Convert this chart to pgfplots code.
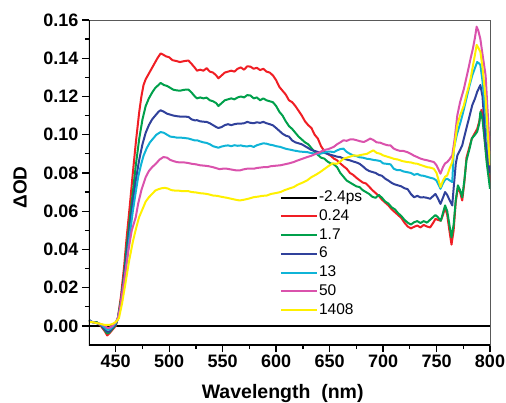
\documentclass[border=0pt]{standalone}
\usepackage{fontspec}
\setmainfont{Liberation Sans}
\usepackage{pgfplots}
\pgfplotsset{compat=1.18}
\definecolor{cR}{RGB}{240,30,36}
\definecolor{cG}{RGB}{0,160,75}
\definecolor{cB}{RGB}{48,65,155}
\definecolor{cC}{RGB}{15,180,215}
\definecolor{cP}{RGB}{218,82,172}
\definecolor{cY}{RGB}{255,240,0}
\begin{document}
\begin{tikzpicture}
\begin{axis}[
  name=ax, at={(0pt,0pt)}, anchor=south west,
  scale only axis, width=401pt, height=325pt,
  xmin=425, xmax=800, ymin=-0.01, ymax=0.16,
  xtick={450,500,...,800}, ytick={0,0.02,...,0.16},
  minor x tick num=1, minor y tick num=1,
  xtick pos=bottom, ytick pos=left, tick align=outside,
  major tick length=7pt, minor tick length=4pt,
  tick style={black, line width=1.3pt},
  axis line style={draw=black!65, line width=0.8pt},
  scaled y ticks=false,
  /pgf/number format/assume math mode=true,
  tick label style={font=\fontsize{18}{18}\selectfont\bfseries},
  xticklabel style={yshift=1pt},
  yticklabel style={/pgf/number format/.cd, fixed, fixed zerofill, precision=2},
  xlabel={Wavelength\ \ (nm)}, ylabel={ΔOD},
  xlabel style={font=\fontsize{19.5}{19.5}\selectfont\bfseries, at={(axis description cs:0.483,-0.164)}, anchor=base},
  ylabel style={font=\fontsize{19}{19}\selectfont\bfseries, at={(axis description cs:-0.172,0.485)}, anchor=center},
  legend style={at={(axis description cs:0.476,0.478)}, anchor=north west, draw=none, fill=none,
    inner sep=0pt, outer sep=0pt, row sep=2.75pt, font=\fontsize{15.5}{15.5}\selectfont,
    nodes={inner sep=1pt, text height=11pt, text depth=3pt}},
  legend cell align=left,
  legend image code/.code={\draw[#1] (0pt,0pt) -- (36pt,0pt);},
  every axis plot/.append style={line width=2pt, line join=round},
]
\addplot[black, line width=2.2pt] coordinates {(425,0) (800,0)};
\addlegendentry{-2.4ps}
\addplot[cR] coordinates {(425,0.003) (428,0.002) (432,0.002) (436,0.000) (440,-0.003) (442,-0.005) (444,-0.004) (447,-0.002) (450,0.000) (452,0.004)
(455,0.016) (458,0.032) (460,0.045) (463,0.062) (466,0.080) (469,0.097) (472,0.112) (474,0.120) (476,0.126) (478,0.129) (480,0.131) (483,0.134) (486,0.137) (489,0.140) (492,0.1425) (494,0.142) (497,0.141) (500,0.1405) (503,0.139) (507,0.1385) (510,0.138) (514,0.1385) (518,0.1388) (521,0.137) (524,0.135) (526,0.1335) (529,0.134) (532,0.1335) (535,0.1348) (538,0.133) (541,0.1325) (544,0.131) (546,0.1295) (549,0.131) (552,0.1325) (555,0.133) (558,0.1335) (561,0.133) (564,0.1345) (567,0.1352) (570,0.134) (573,0.1358) (576,0.1356) (579,0.1345) (582,0.135) (585,0.1338) (588,0.1345) (591,0.133) (594,0.1325) (597,0.131) (600,0.1285) (603,0.125) (606,0.123) (609,0.121) (612,0.118) (615,0.117) (618,0.115) (621,0.1125) (624,0.110) (627,0.107) (630,0.105) (633,0.1035) (636,0.100) (639,0.098) (642,0.094) (645,0.0915) (648,0.090) (651,0.089) (654,0.0875) (657,0.0866) (660,0.085) (663,0.0835) (666,0.0822) (669,0.080) (672,0.079) (675,0.0775) (678,0.0762) (681,0.075) (684,0.0745) (687,0.0728) (690,0.071) (693,0.0695) (696,0.068) (699,0.066) (702,0.0645) (705,0.063) (708,0.061) (711,0.0595) (714,0.058) (717,0.0565) (720,0.054) (723,0.052) (726,0.051) (729,0.0518) (732,0.0525) (735,0.0515) (738,0.0528) (741,0.052) (744,0.0515) (747,0.054) (749,0.056) (751,0.0555) (754,0.055) (756,0.058) (758,0.062) (760,0.058) (762,0.050) (764,0.0425) (766,0.050) (768,0.065) (770,0.0725) (772,0.0700) (774,0.0656) (776,0.075) (778,0.088) (781,0.094) (783,0.098) (786,0.101) (788,0.103) (790,0.107) (792,0.113) (793,0.110) (795,0.098) (797,0.087) (800,0.075)};
\addlegendentry{0.24}
\addplot[cG] coordinates {(425,0.003) (428,0.002) (432,0.002) (436,0.0005) (440,-0.0025) (442,-0.004) (444,-0.0035) (447,-0.0015) (450,0.0005) (452,0.004) (455,0.014) (458,0.028) (460,0.040) (463,0.055) (466,0.070) (469,0.085) (472,0.098) (475,0.108) (478,0.115) (481,0.119) (484,0.122) (487,0.1245) (490,0.126) (492,0.1271) (495,0.126) (498,0.1255) (501,0.1245) (504,0.1235) (507,0.1232) (510,0.123) (514,0.1235) (518,0.1236) (521,0.122) (524,0.120) (526,0.119) (529,0.1195) (532,0.119) (535,0.1194) (538,0.118) (541,0.1175) (544,0.1165) (546,0.115) (549,0.1165) (552,0.118) (555,0.1185) (558,0.119) (561,0.1185) (564,0.1195) (567,0.120) (570,0.1195) (573,0.1207) (576,0.1205) (579,0.119) (582,0.1195) (585,0.118) (588,0.119) (591,0.118) (594,0.1175) (597,0.117) (600,0.115) (603,0.112) (606,0.110) (609,0.107) (612,0.1045) (615,0.103) (618,0.101) (621,0.099) (624,0.0975) (627,0.096) (630,0.095) (633,0.093) (636,0.091) (639,0.0895) (642,0.088) (645,0.0875) (648,0.086) (651,0.085) (654,0.0845) (657,0.083) (660,0.080) (663,0.078) (666,0.076) (669,0.075) (672,0.074) (675,0.073) (678,0.0726) (681,0.071) (684,0.070) (687,0.069) (690,0.0675) (693,0.067) (696,0.0685) (699,0.067) (702,0.065) (705,0.064) (708,0.062) (711,0.061) (714,0.059) (717,0.0575) (720,0.0555) (723,0.054) (726,0.053) (729,0.0542) (732,0.0548) (735,0.0538) (738,0.0548) (741,0.054) (744,0.0555) (747,0.057) (749,0.058) (751,0.057) (754,0.055) (756,0.059) (758,0.063) (760,0.060) (762,0.053) (764,0.0463) (766,0.053) (768,0.066) (770,0.0735) (772,0.071) (774,0.0673) (776,0.076) (778,0.0866) (781,0.093) (783,0.098) (786,0.100) (788,0.1015) (790,0.106) (791,0.112) (793,0.108) (795,0.097) (797,0.085) (800,0.0717)};
\addlegendentry{1.7}
\addplot[cB] coordinates {(425,0.003) (428,0.002) (432,0.0015) (436,0.0005) (440,-0.002) (442,-0.003) (444,-0.003) (447,-0.001) (450,0.001) (452,0.004) (455,0.012) (458,0.026) (460,0.036) (463,0.051) (466,0.065) (469,0.077) (472,0.087) (475,0.095) (478,0.101) (481,0.105) (484,0.108) (487,0.110) (490,0.112) (492,0.1128) (495,0.112) (498,0.111) (501,0.1105) (504,0.110) (507,0.1097) (510,0.1095) (514,0.1095) (518,0.1093) (521,0.108) (524,0.1075) (526,0.1076) (529,0.107) (532,0.1068) (535,0.1067) (538,0.106) (541,0.105) (544,0.104) (546,0.1035) (549,0.104) (552,0.105) (555,0.1055) (558,0.105) (561,0.1055) (564,0.1058) (567,0.1058) (570,0.106) (573,0.1067) (576,0.1062) (579,0.106) (582,0.1065) (585,0.1062) (588,0.1067) (591,0.106) (594,0.1055) (597,0.1049) (600,0.1035) (603,0.102) (606,0.1005) (609,0.0995) (612,0.099) (615,0.097) (618,0.096) (621,0.0955) (624,0.095) (627,0.094) (630,0.093) (633,0.092) (636,0.0915) (639,0.091) (642,0.0905) (645,0.0905) (648,0.090) (651,0.0895) (654,0.089) (657,0.0885) (660,0.0883) (663,0.0875) (666,0.087) (669,0.0866) (672,0.086) (675,0.0855) (678,0.0848) (681,0.0835) (684,0.082) (687,0.081) (690,0.0805) (693,0.080) (696,0.079) (699,0.0785) (702,0.077) (705,0.076) (708,0.0748) (711,0.074) (714,0.0735) (717,0.073) (720,0.072) (723,0.0715) (726,0.069) (729,0.0673) (732,0.068) (735,0.0672) (738,0.0673) (741,0.067) (744,0.0665) (747,0.068) (749,0.069) (751,0.067) (753.7,0.0638) (756,0.067) (758,0.070) (760,0.0685) (762,0.066) (764.7,0.063) (766,0.072) (768,0.0848) (769.5,0.0892) (772,0.092) (774,0.0944) (776,0.099) (778.7,0.105) (781,0.110) (783.4,0.1154) (786,0.119) (788,0.1224) (791,0.126) (793,0.120) (796,0.0962) (800,0.080)};
\addlegendentry{6}
\addplot[cC] coordinates {(425,0.003) (428,0.002) (432,0.0015) (436,0.0008) (440,-0.001) (442,-0.002) (444,-0.002) (447,-0.0005) (450,0.0015) (452,0.004) (455,0.011) (458,0.023) (461,0.037) (463,0.047) (466,0.060) (469,0.071) (471,0.078) (474,0.085) (476,0.089) (479,0.093) (482,0.096) (485,0.098) (488,0.100) (492,0.1014) (495,0.101) (498,0.100) (501,0.099) (504,0.0988) (507,0.0985) (510,0.0985) (514,0.0983) (518,0.098) (521,0.0975) (524,0.097) (526,0.0971) (529,0.0965) (532,0.096) (535,0.0957) (538,0.095) (541,0.094) (544,0.0935) (546,0.0932) (549,0.0938) (552,0.0942) (555,0.0944) (558,0.094) (561,0.0945) (564,0.0942) (567,0.0944) (570,0.094) (573,0.0939) (576,0.0942) (579,0.0936) (582,0.0945) (585,0.095) (588,0.0955) (591,0.0953) (594,0.0948) (597,0.0945) (600,0.094) (604,0.0936) (607,0.093) (610,0.0925) (613,0.0922) (616,0.0918) (619,0.0915) (622,0.0912) (626,0.091) (629,0.0909) (632,0.0905) (635,0.0902) (638,0.090) (641,0.090) (644,0.0905) (647,0.091) (650,0.0912) (654,0.0909) (657,0.0918) (660,0.0925) (663,0.0927) (666,0.091) (669,0.090) (672,0.0892) (675,0.0888) (678,0.0882) (681,0.088) (685,0.0874) (688,0.0872) (691,0.0868) (694,0.0866) (697.5,0.0862) (700,0.085) (703,0.0848) (707,0.0845) (710,0.0822) (713,0.0815) (716,0.0815) (719,0.0808) (722.6,0.0804) (726,0.080) (729,0.079) (732,0.0795) (735,0.0787) (738,0.0785) (741,0.078) (744,0.0775) (747.5,0.077) (750,0.076) (753.7,0.0717) (756,0.0745) (758,0.0765) (760,0.077) (762,0.0762) (764.7,0.0752) (766.2,0.0927) (769,0.100) (772.5,0.1067) (775,0.112) (778.7,0.1207) (781,0.126) (783.4,0.131) (786,0.135) (788,0.138) (790,0.1372) (791,0.1364) (793,0.128) (795.9,0.110) (798,0.095) (800,0.085)};
\addlegendentry{13}
\addplot[cP] coordinates {(425,0.0025) (428,0.002) (432,0.0015) (436,0.001) (440,0.000) (442,-0.001) (444,-0.001) (447,0.000) (450,0.002) (452,0.004) (454,0.009) (456,0.0168) (459,0.028) (462,0.040) (465,0.050) (468.7,0.0568) (471,0.064) (474,0.071) (478,0.0778) (481,0.081) (484,0.083) (487.5,0.0848) (491,0.087) (494.6,0.0883) (498,0.088) (501,0.0868) (504,0.0862) (507,0.0857) (510,0.0855) (514,0.0855) (517.7,0.0852) (521,0.0848) (525,0.0845) (529,0.084) (533,0.0838) (537,0.0835) (541,0.083) (544,0.0825) (547,0.082) (550,0.0822) (554,0.0822) (558,0.0818) (563,0.0813) (566,0.0813) (569,0.0818) (572.7,0.0822) (576,0.0822) (579,0.0822) (582,0.0826) (585,0.0828) (588,0.083) (591.4,0.083) (595,0.0835) (600,0.0838) (604,0.084) (608,0.0845) (612,0.085) (616.4,0.0857) (620,0.0865) (625,0.0875) (629,0.0883) (633,0.089) (637,0.090) (641,0.0909) (645,0.092) (649,0.0925) (653.8,0.0936) (657,0.095) (660,0.096) (663,0.0971) (666,0.0968) (669,0.0975) (672.6,0.0975) (676,0.097) (679,0.0965) (682,0.0962) (685,0.097) (688,0.098) (691,0.0972) (694,0.096) (697.5,0.0958) (701,0.095) (704,0.0945) (707,0.0944) (710,0.0927) (713,0.092) (716,0.0915) (719,0.0915) (722.6,0.0909) (726,0.090) (729,0.089) (732,0.0883) (735,0.0875) (738,0.087) (741.3,0.0866) (744,0.0862) (747.5,0.0857) (750,0.084) (753.7,0.0796) (756,0.083) (758,0.085) (760,0.0857) (762,0.087) (764.7,0.0892) (767,0.098) (769.4,0.110) (772,0.117) (775.6,0.124) (778,0.130) (780,0.135) (781.9,0.140) (784,0.145) (786,0.151) (787.5,0.1565) (789,0.1545) (791,0.150) (793,0.142) (795.9,0.131) (798,0.110) (800,0.090)};
\addlegendentry{50}
\addplot[cY] coordinates {(425,0.002) (428,0.002) (432,0.0015) (436,0.001) (440,0.0005) (444,0.0005) (447,0.001) (450,0.002) (453,0.004) (456,0.012) (459,0.022) (462.5,0.034) (466,0.044) (469,0.051) (471.8,0.0568) (475,0.061) (478,0.065) (481,0.0673) (484,0.069) (487,0.0708) (490,0.0715) (493,0.072) (496,0.0722) (499,0.0718) (502,0.071) (505,0.0708) (508,0.0708) (512,0.0705) (517.7,0.0705) (521,0.070) (525,0.0698) (529,0.0694) (533,0.0692) (537,0.0688) (541,0.0682) (545,0.068) (549,0.0675) (554,0.067) (558,0.0665) (562,0.066) (566,0.0656) (570,0.066) (574,0.0665) (578.9,0.0673) (583,0.0676) (587,0.068) (591.4,0.0682) (595,0.069) (600,0.0695) (604,0.070) (608,0.071) (612,0.0718) (616.4,0.0726) (620,0.0738) (625,0.075) (629,0.0761) (633,0.0778) (637,0.079) (641,0.0804) (645,0.082) (650,0.084) (653,0.085) (657,0.0848) (660,0.086) (663,0.0874) (666,0.088) (669,0.0885) (672.6,0.0892) (676,0.089) (680,0.0895) (685,0.090) (688,0.091) (691,0.0918) (694,0.0905) (697.5,0.090) (700,0.0892) (704,0.0885) (707,0.088) (710,0.0874) (714,0.087) (718,0.0862) (722.6,0.0857) (726,0.0855) (729,0.085) (732,0.0848) (736,0.084) (741.3,0.083) (744,0.0828) (747.5,0.0822) (750,0.080) (753.7,0.0726) (756,0.076) (758,0.078) (760,0.0787) (762,0.082) (764.7,0.0857) (767,0.095) (769.4,0.105) (772,0.110) (775.6,0.1154) (778,0.121) (780,0.125) (781.9,0.1294) (784,0.136) (786,0.142) (787.5,0.147) (789,0.1455) (791,0.1434) (793,0.135) (795.9,0.119) (798,0.100) (800,0.084)};
\addlegendentry{1408}
\draw[black, line width=1.6pt] (rel axis cs:0,1) -- (rel axis cs:0,0) -- (rel axis cs:1,0);
\end{axis}
\pgfresetboundingbox
\path[use as bounding box] ([xshift=-89pt,yshift=-57pt]ax.south west) rectangle ([xshift=16pt,yshift=20pt]ax.north east);
\end{tikzpicture}
\end{document}
